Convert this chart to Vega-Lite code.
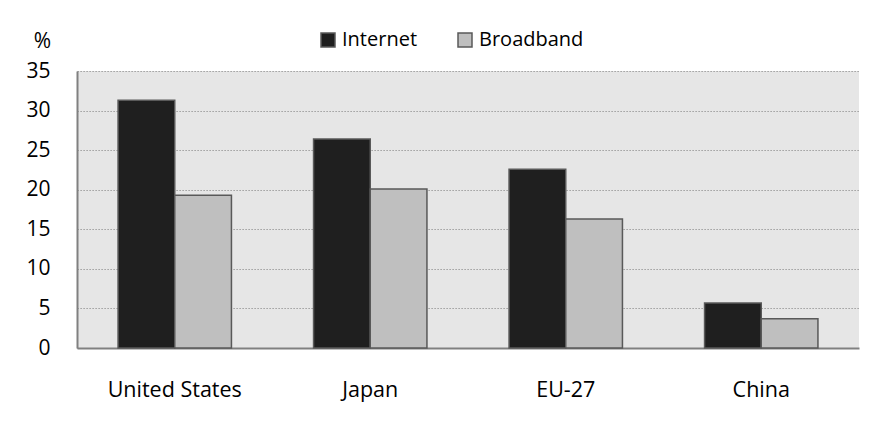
{
  "$schema": "https://vega.github.io/schema/vega-lite/v6.json",
  "width": 782,
  "height": 277,
  "autosize": "none",
  "padding": {"left": 77, "top": 71, "right": 14, "bottom": 73},
  "background": "white",
  "config": {
    "font": "Open Sans",
    "view": {"fill": "#e6e6e6", "stroke": null}
  },
  "data": {
    "values": [
      {"region": "United States", "series": "Internet", "value": 31.3},
      {"region": "United States", "series": "Broadband", "value": 19.3},
      {"region": "Japan", "series": "Internet", "value": 26.4},
      {"region": "Japan", "series": "Broadband", "value": 20.1},
      {"region": "EU-27", "series": "Internet", "value": 22.6},
      {"region": "EU-27", "series": "Broadband", "value": 16.3},
      {"region": "China", "series": "Internet", "value": 5.7},
      {"region": "China", "series": "Broadband", "value": 3.7}
    ]
  },
  "mark": {"type": "bar", "stroke": "#595959", "strokeWidth": 1.5},
  "encoding": {
    "x": {
      "field": "region",
      "type": "nominal",
      "sort": ["United States", "Japan", "EU-27", "China"],
      "scale": {"paddingInner": 0.42, "paddingOuter": 0.21},
      "axis": {
        "title": null,
        "labelAngle": 0,
        "labelFontSize": 21.5,
        "labelColor": "#000000",
        "labelPadding": 31,
        "ticks": false,
        "domainColor": "#808080",
        "domainWidth": 2
      }
    },
    "xOffset": {
      "field": "series",
      "type": "nominal",
      "sort": ["Internet", "Broadband"],
      "scale": {"paddingInner": 0, "paddingOuter": 0}
    },
    "y": {
      "field": "value",
      "type": "quantitative",
      "scale": {"domain": [0, 35]},
      "axis": {
        "values": [0, 5, 10, 15, 20, 25, 30, 35],
        "title": "%",
        "titleAngle": 0,
        "titleX": -35,
        "titleY": -30,
        "titleAlign": "center",
        "titleBaseline": "middle",
        "titleFontSize": 21,
        "titleFontWeight": "normal",
        "titleColor": "#000000",
        "labelFontSize": 21,
        "labelColor": "#000000",
        "labelPadding": 27,
        "ticks": false,
        "domainColor": "#808080",
        "domainWidth": 2,
        "grid": true,
        "gridColor": "#8c8c8c",
        "gridDash": [1.2, 1.8],
        "gridWidth": 1.2
      }
    },
    "color": {
      "field": "series",
      "type": "nominal",
      "sort": ["Internet", "Broadband"],
      "scale": {"domain": ["Internet", "Broadband"], "range": ["#1f1f1f", "#bfbfbf"]},
      "legend": {
        "title": null,
        "orient": "none",
        "legendX": 241,
        "legendY": -41,
        "direction": "horizontal",
        "symbolType": "square",
        "symbolSize": 196,
        "symbolStrokeColor": "#595959",
        "symbolStrokeWidth": 1.5,
        "symbolOpacity": 1,
        "labelFontSize": 20,
        "labelColor": "#000000",
        "labelOffset": 4,
        "columnPadding": 37
      }
    }
  }
}
